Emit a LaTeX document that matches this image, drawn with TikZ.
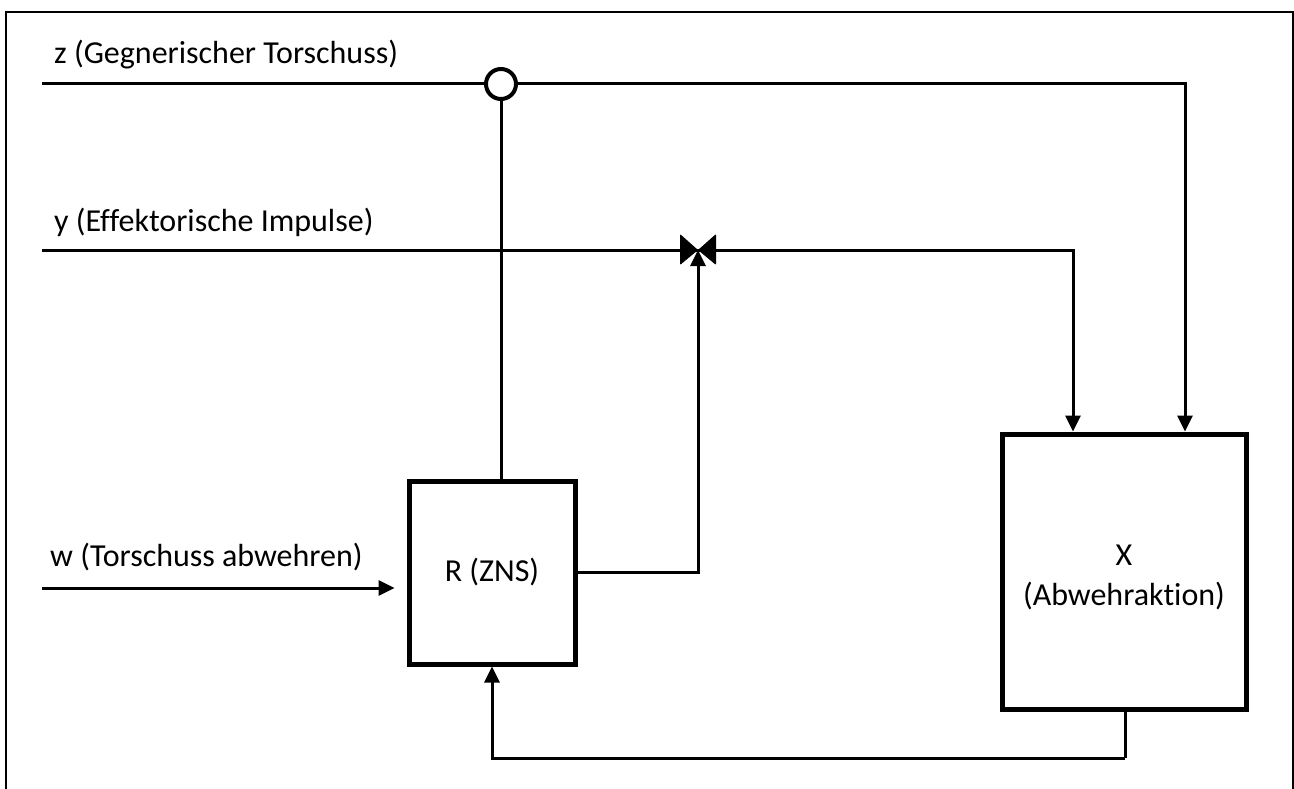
\documentclass[tikz,border=0pt]{standalone}
\usepackage{fontspec}
\setmainfont{Carlito}[Ligatures={NoCommon},Contextuals={NoAlternate}]
\usetikzlibrary{arrows.meta}
\begin{document}
\begin{tikzpicture}[x=1pt,y=-1pt,
  conn/.style={line width=3pt},
  arr/.style={conn,-{Triangle[length=16pt,width=15pt]}},
  block/.style={draw,line width=5pt,fill=white,inner sep=0pt},
  btext/.style={font=\fontsize{32}{40}\selectfont,align=center,inner sep=0pt},
  lbl/.style={font=\fontsize{32}{38}\selectfont,anchor=base west,inner sep=0pt},
  frame/.style={line width=2pt}]
\useasboundingbox (0,0) rectangle (1294,789);
% outer frame
\draw[frame] (6,800) -- (6,12) -- (1293,12) -- (1293,800);

% blocks
\node[block,minimum width=166pt,minimum height=183pt] (R) at (492,572.5) {};
\node[btext] (Rt) at (492,572) {R (ZNS)};
\node[block,minimum width=244pt,minimum height=275pt] (X) at (1124,571.5) {};
\node[btext] (Xt) at (1124,577) {X\\(Abwehraktion)};

% comparison point and actuator
\node[draw,circle,line width=4pt,minimum size=30pt,inner sep=0pt,fill=white] (zc) at (501,84) {};
\coordinate (v) at (698,250);

% inputs
\coordinate (zin) at (42,84);
\coordinate (yin) at (42,250);
\coordinate (win) at (42,588);
\coordinate (zx) at (1185,0);
\coordinate (yx) at (1073,0);
\coordinate (fb) at (1125,758);

% labels
\node[lbl] (lz) at (54,64) {z (Gegnerischer Torschuss)};
\node[lbl] (ly) at (54,231) {y (Effektorische Impulse)};
\node[lbl] (lw) at (50,566) {w (Torschuss abwehren)};

% disturbance path
\draw[conn] (zin) -- (zc.west);
\draw[arr] (zc.east) -| (zx |- X.north);
\draw[conn] (zc.south) -- (zc |- R.north);

% manipulated variable path
\draw[conn] (yin) -- (v);
\draw[arr] (v) -| (yx |- X.north);
\draw[arr] (R.east) -| (v);

% valve (bowtie)
\fill[shift={(v)},rounded corners=1pt] (-18,-16) -- (-18,15) -- (0,0) -- cycle;
\fill[shift={(v)},rounded corners=1pt] (18,-16) -- (18,15) -- (0,0) -- cycle;

% setpoint
\draw[arr,shorten >=12pt] (win) -- (win -| R.west);

% feedback
\draw[conn] (X.south -| fb) -- (fb);
\draw[arr] (fb) -| (R.south);
\end{tikzpicture}
\end{document}
